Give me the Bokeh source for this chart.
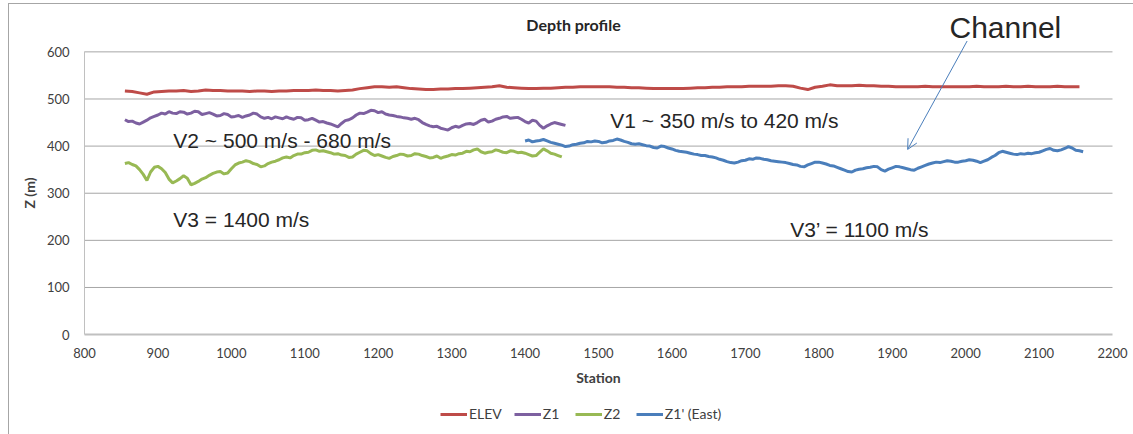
from bokeh.plotting import figure
from bokeh.models import Label, Arrow, OpenHead, FixedTicker, Range1d, Legend
from bokeh.embed import file_html
from bokeh.resources import INLINE

# ---------------- data ----------------
elev_start, elev_step = 855, 10
elev = [517, 516, 513, 510, 515, 516, 517, 517, 518, 516, 517, 519, 518, 518, 517, 517, 517, 516, 517, 517,
        516, 517, 517, 518, 518, 518, 519, 518, 518, 517, 518, 519, 522, 524, 526, 526, 525, 526, 524, 522,
        521, 520, 520, 521, 521, 522, 522, 523, 524, 525, 526, 528, 525, 524, 523, 522, 522, 523, 523, 524,
        525, 525, 526, 526, 526, 526, 526, 525, 525, 524, 524, 523, 522, 522, 522, 522, 522, 523, 524, 524,
        525, 525, 526, 526, 526, 527, 527, 527, 527, 528, 528, 527, 523, 520, 525, 527, 530, 528, 528, 528,
        529, 528, 528, 527, 527, 526, 526, 526, 526, 527, 526, 526, 526, 526, 526, 526, 527, 526, 526, 526,
        527, 526, 526, 527, 526, 526, 526, 527, 526, 526, 526]

z1_start, z1_step = 855, 5
z1 = [456, 452, 453, 449, 447, 451, 455, 460, 463, 466,
      470, 468, 473, 470, 469, 473, 472, 468, 470, 474,
      473, 467, 469, 471, 468, 464, 465, 469, 467, 462,
      463, 465, 461, 464, 466, 470, 468, 462, 459, 461,
      458, 462, 460, 458, 462, 459, 457, 461, 460, 455,
      456, 459, 455, 451, 452, 449, 447, 444, 441, 448,
      454, 456, 460, 466, 470, 469, 472, 476, 475, 471,
      473, 468, 466, 465, 463, 462, 460, 459, 457, 459,
      456, 450, 446, 443, 441, 442, 438, 436, 434, 439,
      442, 440, 444, 447, 448, 446, 450, 455, 457, 451,
      453, 457, 459, 462, 463, 459, 460, 461, 457, 452,
      449, 455, 453, 444, 438, 443, 447, 450, 448, 446,
      444]

z2_start, z2_step = 855, 5
z2 = [363, 365, 361, 358, 350, 340, 327, 345, 355, 357,
      352, 344, 330, 322, 326, 331, 337, 332, 318, 321,
      325, 330, 333, 338, 342, 345, 346, 341, 343, 352,
      360, 364, 366, 369, 367, 363, 361, 356, 358, 363,
      366, 368, 371, 375, 377, 375, 380, 383, 383, 386,
      387, 391, 392, 389, 390, 388, 386, 383, 384, 381,
      380, 376, 377, 383, 387, 391, 390, 384, 380, 382,
      379, 376, 374, 378, 380, 383, 382, 379, 380, 384,
      383, 380, 378, 375, 376, 379, 374, 377, 379, 382,
      381, 384, 385, 389, 388, 392, 394, 388, 385, 387,
      388, 392, 390, 387, 386, 390, 389, 386, 387, 385,
      382, 379, 380, 387, 394, 390, 385, 383, 380, 377]

z1e_start, z1e_step = 1400, 5
z1e = [411, 413, 409, 411, 412, 414, 411, 408, 406, 404,
       402, 399, 400, 403, 404, 406, 407, 410, 409, 411,
       410, 407, 408, 411, 412, 415, 413, 410, 408, 405,
       404, 405, 403, 401, 400, 397, 396, 400, 399, 396,
       394, 391, 389, 388, 387, 385, 383, 382, 380, 380,
       378, 377, 375, 372, 370, 367, 365, 364, 366, 369,
       370, 373, 372, 375, 374, 372, 371, 369, 368, 367,
       366, 365, 363, 361, 360, 357, 356, 360, 363, 366,
       366, 364, 362, 359, 358, 355, 352, 349, 346, 345,
       349, 351, 352, 354, 355, 357, 356, 350, 347, 351,
       354, 357, 356, 354, 352, 350, 349, 353, 356, 359,
       362, 364, 366, 365, 367, 369, 368, 366, 366, 368,
       369, 371, 370, 368, 365, 368, 371, 376, 380, 386,
       389, 387, 385, 383, 382, 384, 383, 385, 384, 386,
       387, 390, 393, 395, 391, 390, 392, 395, 399, 396,
       391, 390, 388]

series_names = ["ELEV", "Z1", "Z2", "Z1' (East)"]
series_colors = ["#be4b48", "#7d60a0", "#98b954", "#4a7ebb"]

x_ticks = [800, 900, 1000, 1100, 1200, 1300, 1400, 1500, 1600, 1700, 1800, 1900, 2000, 2100, 2200]
y_ticks = [0, 100, 200, 300, 400, 500, 600]

notes = ["V2 ~ 500 m/s - 680 m/s", "V3 = 1400 m/s", "V1 ~ 350 m/s to 420 m/s", "V3\u2019 = 1100 m/s"]
note_x = [921, 921, 1516, 1761]
note_y = [412, 245, 455, 224]


def stations(start, step, vals):
    return [start + step * i for i in range(len(vals))]


X_MIN, X_MAX = x_ticks[0], x_ticks[-1]
Y_MIN, Y_MAX = y_ticks[0], y_ticks[-1]

# ---------------- figure ----------------
# The frame spans the whole canvas so that title, "Channel", tick labels and legend are not
# clipped; both axes are pinned (fixed_location) and bounded to the chart's own extents.
p = figure(width=1133, height=434, output_backend="svg", toolbar_location=None,
           x_range=Range1d(685.6, 2228.6), y_range=Range1d(-212, 709))
p.min_border_left = 0
p.min_border_right = 0
p.min_border_top = 0
p.min_border_bottom = 0
p.outline_line_color = None
p.background_fill_color = None
p.border_fill_color = None
p.styles = {"box-shadow": "inset 8px 3px 0 0 #ffffff, inset 9px 4px 0 0 #a6a6a6",
            "background-color": "#ffffff"}

# horizontal gridlines, limited to the plot area
p.grid.visible = False
p.segment(x0=[X_MIN] * len(y_ticks[1:]), x1=[X_MAX] * len(y_ticks[1:]),
          y0=y_ticks[1:], y1=y_ticks[1:], line_color="#a6a6a6", line_width=1)

renderers = []
for (st, sp, vals), name, col in zip(
        [(elev_start, elev_step, elev), (z1_start, z1_step, z1),
         (z2_start, z2_step, z2), (z1e_start, z1e_step, z1e)],
        series_names, series_colors):
    r = p.line(stations(st, sp, vals), vals, line_color=col, line_width=3)
    renderers.append((name, [r]))

# axes
p.xaxis.ticker = FixedTicker(ticks=x_ticks)
p.yaxis.ticker = FixedTicker(ticks=y_ticks)
p.xaxis.bounds = (X_MIN, X_MAX)
p.yaxis.bounds = (Y_MIN, Y_MAX)
p.xaxis.fixed_location = Y_MIN
p.yaxis.fixed_location = X_MIN
for ax in (p.xaxis[0], p.yaxis[0]):
    ax.major_tick_in = 0
    ax.major_tick_out = 0
    ax.minor_tick_in = 0
    ax.minor_tick_out = 0
    ax.major_label_text_font = "Lato"
    ax.major_label_text_font_size = "13px"
    ax.major_label_text_color = "#404040"
    ax.axis_label_text_font = "Lato"
    ax.axis_label_text_font_style = "bold"
    ax.axis_label_text_font_size = "14px"
    ax.axis_label_text_color = "#404040"
    ax.axis_line_color = "#c0c0c0"
p.xaxis.axis_line_width = 2
p.yaxis.axis_line_width = 1
p.xaxis.axis_label = "Station"
p.yaxis.axis_label = "Z (m)"
p.xaxis.major_label_standoff = 13
p.yaxis.major_label_standoff = 15
p.xaxis.axis_label_standoff = 8
p.yaxis.axis_label_standoff = 6

# legend (inside the frame, below the axis title)
lg = Legend(items=renderers, orientation="horizontal", location=(440, 12),
            glyph_width=27, glyph_height=16, label_height=16, label_standoff=2, spacing=12,
            padding=0, margin=0, border_line_color=None, background_fill_alpha=0,
            label_text_font="Lato", label_text_font_size="14px", label_text_color="#404040")
p.add_layout(lg)

# title
p.add_layout(Label(x=1466, y=658, text="Depth profile", text_font="Lato", text_font_style="bold",
                   text_font_size="16px", text_color="#262626", text_align="center",
                   text_baseline="middle"))

# annotation texts
for t, xx, yy in zip(notes, note_x, note_y):
    p.add_layout(Label(x=xx, y=yy, text=t, text_font="Liberation Sans", text_font_size="21px",
                       text_color="#262626", text_align="left", text_baseline="middle"))

p.add_layout(Label(x=1978, y=652, text="Channel", text_font="Liberation Sans", text_font_size="30px",
                   text_color="#262626", text_align="left", text_baseline="middle"))

p.add_layout(Arrow(x_start=2002, y_start=623, x_end=1921, y_end=393,
                   line_color="#4a7ebb", line_width=1,
                   end=OpenHead(size=10, line_color="#4a7ebb", line_width=1)))

open("out.html", "w").write(file_html(p, INLINE))
